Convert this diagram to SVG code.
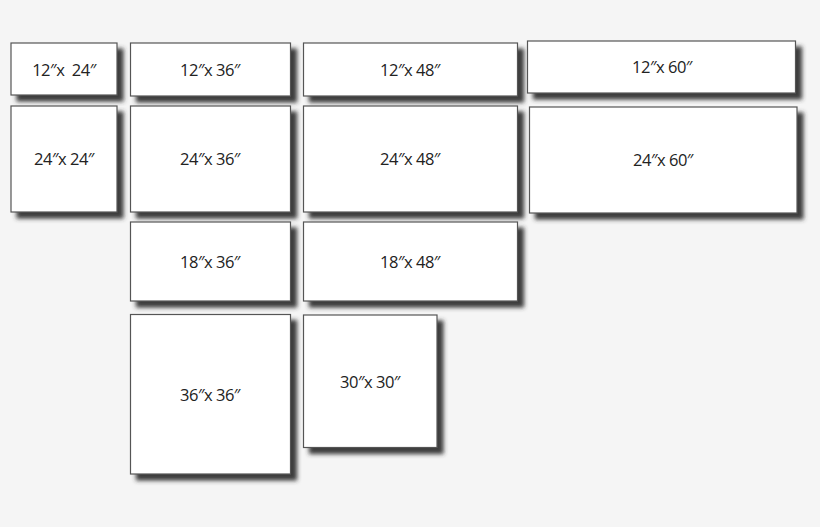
<svg xmlns="http://www.w3.org/2000/svg" width="820" height="527" viewBox="0 0 820 527">
<defs>
<filter id="sh" x="-10%" y="-10%" width="130%" height="130%">
<feDropShadow dx="6" dy="6" stdDeviation="2.2" flood-color="#333333" flood-opacity="0.95"/>
</filter>
</defs>
<style>
.b{fill:#fff;stroke:#555;stroke-width:1.2;filter:url(#sh)}
.t{font-family:"Open Sans","Liberation Sans",sans-serif;font-size:16.5px;fill:#222;text-anchor:middle;letter-spacing:-0.5px}
</style>
<rect width="820" height="527" fill="#f5f5f5"/>
<g id="n12x24"><rect class="b" x="11" y="43" width="106" height="52"/><text class="t" x="64" y="76" xml:space="preserve">12″x  24″</text></g>
<g id="n12x36"><rect class="b" x="130.5" y="43" width="160" height="53"/><text class="t" x="210" y="76">12″x 36″</text></g>
<g id="n12x48"><rect class="b" x="303.5" y="43" width="214" height="53"/><text class="t" x="410" y="76">12″x 48″</text></g>
<g id="n12x60"><rect class="b" x="527.5" y="41" width="268" height="52"/><text class="t" x="662" y="73">12″x 60″</text></g>
<g id="n24x24"><rect class="b" x="11" y="106" width="106" height="106"/><text class="t" x="64" y="165">24″x 24″</text></g>
<g id="n24x36"><rect class="b" x="130.5" y="106" width="160" height="106"/><text class="t" x="210" y="165">24″x 36″</text></g>
<g id="n24x48"><rect class="b" x="303.5" y="106" width="214" height="106"/><text class="t" x="410" y="165">24″x 48″</text></g>
<g id="n24x60"><rect class="b" x="529.5" y="107" width="267.5" height="106"/><text class="t" x="663" y="166">24″x 60″</text></g>
<g id="n18x36"><rect class="b" x="130.5" y="222" width="160" height="79"/><text class="t" x="210" y="268">18″x 36″</text></g>
<g id="n18x48"><rect class="b" x="303.5" y="222" width="214" height="79"/><text class="t" x="410" y="268">18″x 48″</text></g>
<g id="n36x36"><rect class="b" x="130.5" y="314.5" width="160" height="159.5"/><text class="t" x="210" y="401">36″x 36″</text></g>
<g id="n30x30"><rect class="b" x="303.5" y="315" width="133.5" height="132.5"/><text class="t" x="370" y="388">30″x 30″</text></g>
<g id="connectors"></g>
</svg>
